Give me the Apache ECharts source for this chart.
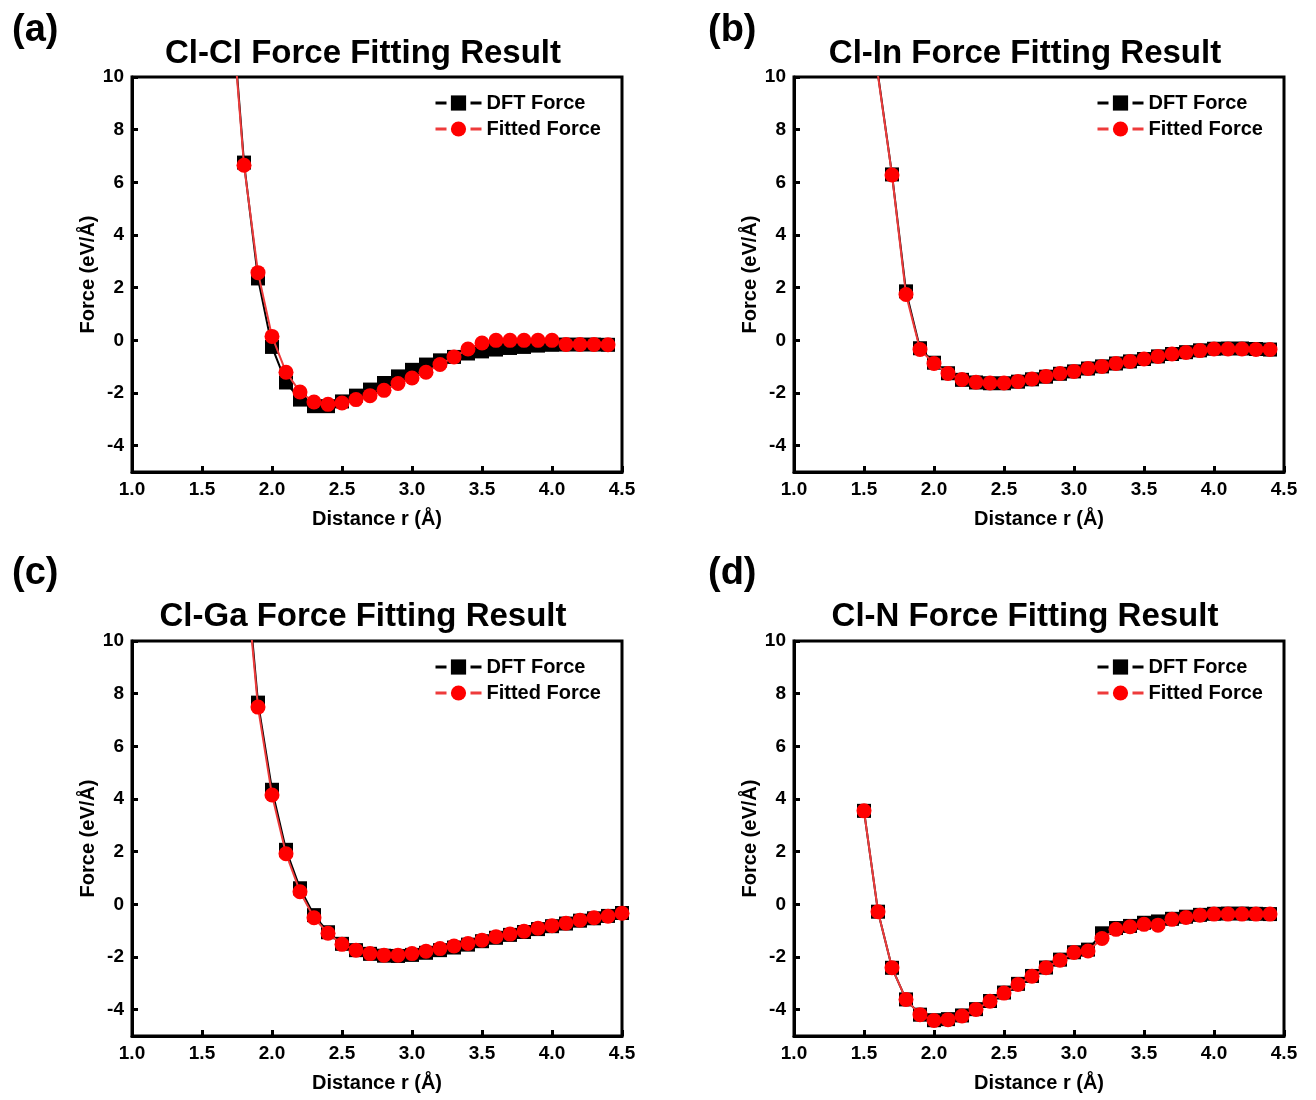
<!DOCTYPE html>
<html>
<head>
<meta charset="utf-8">
<script src="https://cdn.jsdelivr.net/npm/echarts@6/dist/echarts.min.js"></script>
<style>html,body{margin:0;padding:0;background:#fff}#c{width:1316px;height:1100px}</style>
</head>
<body>
<div id="c"></div>
<script>
// ---- data ----
var panelTitles = ['Cl-Cl Force Fitting Result', 'Cl-In Force Fitting Result', 'Cl-Ga Force Fitting Result', 'Cl-N Force Fitting Result'];
var panelLabels = ['(a)', '(b)', '(c)', '(d)'];
var seriesNames = ['DFT Force', 'Fitted Force'];
var yTicks = [-4, -2, 0, 2, 4, 6, 8, 10];

var xA = [1.7,1.8,1.9,2.0,2.1,2.2,2.3,2.4,2.5,2.6,2.7,2.8,2.9,3.0,3.1,3.2,3.3,3.4,3.5,3.6,3.7,3.8,3.9,4.0,4.1,4.2,4.3,4.4];
var dftA = [13.5,6.75,2.35,-0.25,-1.6,-2.25,-2.5,-2.5,-2.32,-2.1,-1.87,-1.62,-1.37,-1.12,-0.92,-0.76,-0.63,-0.5,-0.42,-0.35,-0.29,-0.25,-0.2,-0.17,-0.16,-0.16,-0.16,-0.17];
var fitA = [13.3,6.65,2.57,0.15,-1.21,-1.96,-2.34,-2.43,-2.38,-2.25,-2.1,-1.9,-1.64,-1.43,-1.21,-0.92,-0.63,-0.33,-0.1,0,0,0,0,0,-0.16,-0.16,-0.16,-0.17];

var xB = [1.6,1.7,1.8,1.9,2.0,2.1,2.2,2.3,2.4,2.5,2.6,2.7,2.8,2.9,3.0,3.1,3.2,3.3,3.4,3.5,3.6,3.7,3.8,3.9,4.0,4.1,4.2,4.3,4.4];
var dftB = [10.1,6.3,1.86,-0.3,-0.85,-1.25,-1.5,-1.6,-1.63,-1.63,-1.57,-1.48,-1.38,-1.27,-1.18,-1.07,-0.99,-0.88,-0.8,-0.71,-0.61,-0.52,-0.45,-0.38,-0.32,-0.31,-0.31,-0.33,-0.35];
var fitB = [10.05,6.28,1.74,-0.35,-0.88,-1.26,-1.49,-1.59,-1.62,-1.62,-1.56,-1.47,-1.37,-1.26,-1.18,-1.07,-0.99,-0.88,-0.8,-0.71,-0.61,-0.52,-0.46,-0.39,-0.33,-0.33,-0.33,-0.35,-0.35];

var xC = [1.8,1.9,2.0,2.1,2.2,2.3,2.4,2.5,2.6,2.7,2.8,2.9,3.0,3.1,3.2,3.3,3.4,3.5,3.6,3.7,3.8,3.9,4.0,4.1,4.2,4.3,4.4,4.5];
var dftC = [13.6,7.66,4.35,2.07,0.61,-0.41,-1.06,-1.5,-1.74,-1.88,-1.95,-1.96,-1.92,-1.84,-1.74,-1.64,-1.53,-1.4,-1.27,-1.16,-1.05,-0.94,-0.83,-0.73,-0.62,-0.53,-0.44,-0.33];
var fitC = [13.3,7.49,4.15,1.92,0.48,-0.51,-1.1,-1.52,-1.74,-1.87,-1.93,-1.93,-1.87,-1.78,-1.68,-1.58,-1.49,-1.36,-1.23,-1.13,-1.02,-0.91,-0.81,-0.72,-0.6,-0.51,-0.45,-0.34];

var xD = [1.5,1.6,1.7,1.8,1.9,2.0,2.1,2.2,2.3,2.4,2.5,2.6,2.7,2.8,2.9,3.0,3.1,3.2,3.3,3.4,3.5,3.6,3.7,3.8,3.9,4.0,4.1,4.2,4.3,4.4];
var dftD = [3.55,-0.28,-2.41,-3.61,-4.19,-4.4,-4.36,-4.22,-3.98,-3.67,-3.35,-3.02,-2.72,-2.4,-2.1,-1.82,-1.72,-1.1,-0.9,-0.82,-0.7,-0.65,-0.55,-0.47,-0.4,-0.36,-0.35,-0.35,-0.36,-0.37];
var fitD = [3.55,-0.28,-2.41,-3.61,-4.19,-4.41,-4.38,-4.24,-3.99,-3.68,-3.37,-3.04,-2.73,-2.41,-2.12,-1.83,-1.77,-1.3,-0.95,-0.85,-0.76,-0.79,-0.57,-0.5,-0.41,-0.37,-0.37,-0.37,-0.37,-0.37];

// ---- layout ----
var FONT = '"Liberation Sans", Arial, sans-serif';
var grids = [
  {left: 132, top: 77, width: 490, height: 395},
  {left: 794, top: 77, width: 490, height: 395},
  {left: 132, top: 641, width: 490, height: 395},
  {left: 794, top: 641, width: 490, height: 395}
];
var titlePos = [[363, 54], [1025, 54], [363, 617], [1025, 617]];
var labelPos = [[12, 31], [708, 31], [12, 574], [708, 574]];
var legendPos = [[434, 93], [1096, 93], [434, 657], [1096, 657]];
var panels = [[xA, dftA, fitA], [xB, dftB, fitB], [xC, dftC, fitC], [xD, dftD, fitD]];

function pairs(xs, ys) { return xs.map(function (x, i) { return [x, ys[i]]; }); }

var option = {
  animation: false,
  backgroundColor: '#fff',
  textStyle: {fontFamily: FONT},
  grid: [], xAxis: [], yAxis: [], series: [], legend: [], graphic: []
};

grids.forEach(function (g, i) {
  option.grid.push({left: g.left, top: g.top, width: g.width, height: g.height,
    show: true, borderColor: '#000', borderWidth: 3, outerBoundsMode: 'none', containLabel: false});
  option.xAxis.push({
    type: 'value', gridIndex: i, min: 1, max: 4.5, interval: 0.5,
    name: 'Distance r (Å)', nameLocation: 'middle', nameGap: 37,
    nameTextStyle: {fontFamily: FONT, fontWeight: 'bold', fontSize: 20, color: '#000'},
    axisLine: {show: true, onZero: false, lineStyle: {color: '#000', width: 3}},
    axisTick: {show: true, inside: true, length: 6, lineStyle: {color: '#000', width: 3}},
    axisLabel: {fontFamily: FONT, fontWeight: 'bold', fontSize: 19, color: '#000', margin: 8,
      showMinLabel: true, showMaxLabel: true, formatter: function (v) { return v.toFixed(1); }},
    splitLine: {show: false}
  });
  option.yAxis.push({
    type: 'value', gridIndex: i, min: -5, max: 10,
    name: 'Force (eV/Å)', nameLocation: 'middle', nameGap: 34,
    nameTextStyle: {fontFamily: FONT, fontWeight: 'bold', fontSize: 20, color: '#000'},
    axisLine: {show: true, onZero: false, lineStyle: {color: '#000', width: 3}},
    axisTick: {show: true, inside: true, length: 6, customValues: yTicks, lineStyle: {color: '#000', width: 3}},
    axisLabel: {fontFamily: FONT, fontWeight: 'bold', fontSize: 19, color: '#000', margin: 8, customValues: yTicks},
    splitLine: {show: false}
  });
  var p = panels[i];
  option.series.push({
    name: seriesNames[0], type: 'line', xAxisIndex: i, yAxisIndex: i,
    data: pairs(p[0], p[1]), symbol: 'rect', symbolSize: 14, clip: true,
    lineStyle: {color: '#000', width: 2}, itemStyle: {color: '#000'}, z: 2
  });
  option.series.push({
    name: seriesNames[1], type: 'line', xAxisIndex: i, yAxisIndex: i,
    data: pairs(p[0], p[2]), symbol: 'circle', symbolSize: 15, clip: true,
    lineStyle: {color: '#ee3b3b', width: 2}, itemStyle: {color: '#ff0000'}, z: 3
  });
  option.legend.push({
    orient: 'vertical', left: legendPos[i][0], top: legendPos[i][1], padding: 0,
    itemWidth: 46, itemHeight: 19, itemGap: 6,
    textStyle: {fontFamily: FONT, fontWeight: 'bold', fontSize: 20, color: '#000'},
    lineStyle: {type: [11, 24], width: 3},
    data: seriesNames
  });
  option.graphic.push({
    type: 'text', x: titlePos[i][0], y: titlePos[i][1],
    style: {text: panelTitles[i], font: 'bold 33px ' + FONT, fill: '#000', align: 'center', verticalAlign: 'middle'}
  });
  option.graphic.push({
    type: 'text', x: labelPos[i][0], y: labelPos[i][1],
    style: {text: panelLabels[i], font: 'bold 38px ' + FONT, fill: '#000', align: 'left', verticalAlign: 'middle'}
  });
});

var chart = echarts.init(document.getElementById('c'), null, {renderer: 'canvas'});
chart.setOption(option);
</script>
</body>
</html>
